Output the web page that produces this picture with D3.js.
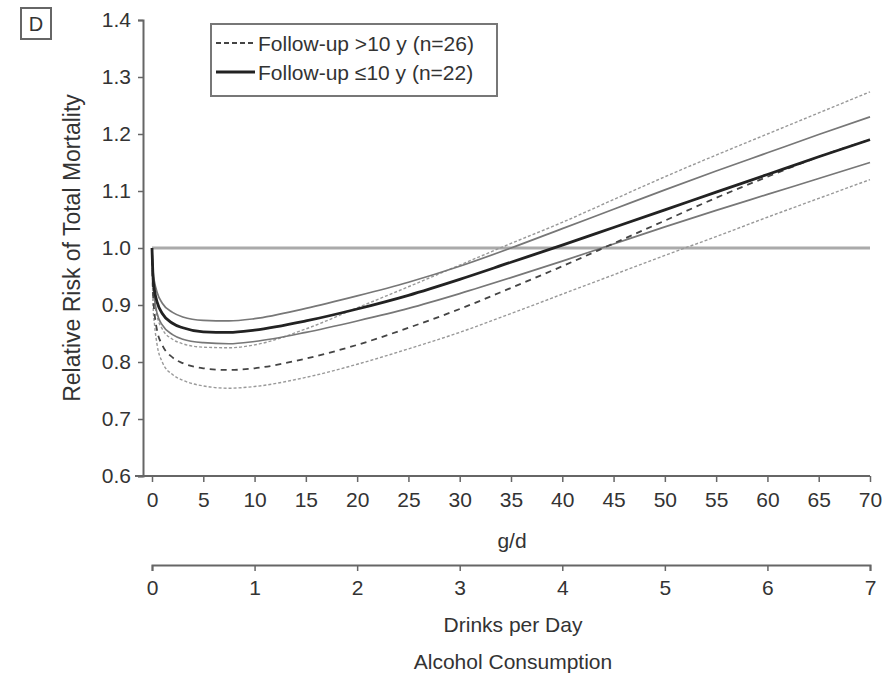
<!DOCTYPE html>
<html>
<head>
<meta charset="utf-8">
<script src="https://cdn.jsdelivr.net/npm/d3@7"></script>
<style>
  body { margin: 0; background: #fff; }
  text { font-family: "Liberation Sans", Arial, sans-serif; fill: #333; }
</style>
</head>
<body>
<div id="chart"></div>
<script>
// Alcohol intake (g/d) where the curves were read
const gramsPerDay = [0, 0.1, 0.25, 0.5, 1, 2, 3, 5, 7.5, 10, 15, 20, 25, 30, 35, 40, 45, 50, 55, 60, 65, 70];

// Follow-up <= 10 y (solid) and its 95% CI
const shortFollowUp = [1.0, 0.95, 0.925, 0.905, 0.885, 0.868, 0.86, 0.853, 0.852, 0.856, 0.872, 0.893, 0.917, 0.945, 0.975, 1.005, 1.036, 1.067, 1.098, 1.129, 1.16, 1.19];
const shortUpper = [1.0, 0.96, 0.94, 0.922, 0.903, 0.887, 0.879, 0.873, 0.872, 0.876, 0.894, 0.916, 0.94, 0.968, 1.0, 1.034, 1.068, 1.102, 1.135, 1.167, 1.199, 1.23];
const shortLower = [1.0, 0.94, 0.91, 0.885, 0.865, 0.848, 0.84, 0.834, 0.832, 0.836, 0.852, 0.872, 0.894, 0.92, 0.948, 0.977, 1.007, 1.037, 1.066, 1.094, 1.122, 1.15];

// Follow-up > 10 y (dashed) and its 95% CI
const longFollowUp = [1.0, 0.92, 0.885, 0.855, 0.83, 0.808, 0.798, 0.789, 0.786, 0.789, 0.806, 0.83, 0.86, 0.893, 0.93, 0.968, 1.008, 1.048, 1.088, 1.125, 1.16, 1.19];
const longUpper = [1.0, 0.94, 0.905, 0.88, 0.858, 0.84, 0.832, 0.826, 0.825, 0.83, 0.858, 0.895, 0.932, 0.97, 1.008, 1.045, 1.085, 1.125, 1.163, 1.2, 1.237, 1.274];
const longLower = [1.0, 0.9, 0.865, 0.83, 0.8, 0.778, 0.768, 0.758, 0.754, 0.757, 0.773, 0.796, 0.823, 0.852, 0.885, 0.919, 0.953, 0.987, 1.02, 1.054, 1.087, 1.12];

// Tick labels
const yTicks = [0.6, 0.7, 0.8, 0.9, 1.0, 1.1, 1.2, 1.3, 1.4];
const gTicks = [0, 5, 10, 15, 20, 25, 30, 35, 40, 45, 50, 55, 60, 65, 70];
const drinkTicks = [0, 1, 2, 3, 4, 5, 6, 7];
const legendLabels = ["Follow-up >10 y (n=26)", "Follow-up \u226410 y (n=22)"];

const width = 895, height = 673;
const fontSize = "21px";

const svg = d3.select("#chart").append("svg")
    .attr("width", width)
    .attr("height", height);

svg.append("rect").attr("width", width).attr("height", height).attr("fill", "#fff");

// Scales
const x = d3.scaleLinear().domain([0, 70]).range([152, 870]);
const xDrinks = d3.scaleLinear().domain([0, 7]).range([152, 870]);
const y = d3.scaleLinear().domain([0.6, 1.4]).range([476, 20]);

// Panel letter
svg.append("rect")
    .attr("x", 21).attr("y", 8).attr("width", 30).attr("height", 31)
    .attr("fill", "none").attr("stroke", "#666").attr("stroke-width", 2);
svg.append("text")
    .attr("x", 36).attr("y", 31)
    .attr("text-anchor", "middle")
    .style("font-size", "20px")
    .text("D");

// Y axis
const yAxis = svg.append("g")
    .attr("transform", "translate(143,0)")
    .call(d3.axisLeft(y).tickValues(yTicks).tickFormat(d3.format(".1f")).tickSize(5).tickPadding(7));

// X axis (g/d)
const xAxis = svg.append("g")
    .attr("transform", "translate(0,476)")
    .call(d3.axisBottom(x).tickValues(gTicks).tickFormat(d3.format("d")).tickSize(6).tickPadding(10));
xAxis.select(".domain").attr("d", "M135,0H870");

// X axis (drinks per day)
const dAxis = svg.append("g")
    .attr("transform", "translate(0,565)")
    .call(d3.axisBottom(xDrinks).tickValues(drinkTicks).tickFormat(d3.format("d")).tickSize(6).tickPadding(9));

[yAxis, xAxis, dAxis].forEach(function(a) {
    a.select(".domain").attr("stroke", "#666").attr("stroke-width", 2);
    a.selectAll(".tick line").attr("stroke", "#666").attr("stroke-width", 1.5);
    a.selectAll(".tick text")
        .style("font-size", fontSize)
        .style("font-family", "'Liberation Sans', Arial, sans-serif")
        .attr("fill", "#333");
});

// Axis titles
svg.append("text")
    .attr("transform", "translate(80,248) rotate(-90)")
    .attr("text-anchor", "middle")
    .style("font-size", "23px")
    .text("Relative Risk of Total Mortality");

svg.append("text")
    .attr("x", 512).attr("y", 548)
    .attr("text-anchor", "middle")
    .style("font-size", fontSize)
    .text("g/d");

svg.append("text")
    .attr("x", 513).attr("y", 632)
    .attr("text-anchor", "middle")
    .style("font-size", fontSize)
    .text("Drinks per Day");

svg.append("text")
    .attr("x", 513).attr("y", 669)
    .attr("text-anchor", "middle")
    .style("font-size", fontSize)
    .text("Alcohol Consumption");

// Reference line at RR = 1
svg.append("line")
    .attr("x1", x(0)).attr("x2", x(70))
    .attr("y1", y(1)).attr("y2", y(1))
    .attr("stroke", "#aaa")
    .attr("stroke-width", 3);

// Curves
const line = d3.line()
    .x(d => x(d[0]))
    .y(d => y(d[1]))
    .curve(d3.curveMonotoneX);

const series = [
    { values: longUpper, stroke: "#999", width: 1.4, dash: "3,2" },
    { values: longLower, stroke: "#999", width: 1.4, dash: "3,2" },
    { values: shortUpper, stroke: "#777", width: 1.7, dash: null },
    { values: shortLower, stroke: "#777", width: 1.7, dash: null },
    { values: longFollowUp, stroke: "#444", width: 1.8, dash: "6,5" },
    { values: shortFollowUp, stroke: "#222", width: 2.8, dash: null }
];

series.forEach(function(s) {
    svg.append("path")
        .datum(gramsPerDay.map((g, i) => [g, s.values[i]]))
        .attr("fill", "none")
        .attr("stroke", s.stroke)
        .attr("stroke-width", s.width)
        .attr("stroke-dasharray", s.dash)
        .attr("d", line);
});

// Legend
const legend = svg.append("g");
legend.append("rect")
    .attr("x", 211).attr("y", 24).attr("width", 286).attr("height", 72)
    .attr("fill", "#fff").attr("stroke", "#777").attr("stroke-width", 2);

const legendRows = legend.selectAll(".row")
    .data(legendLabels)
    .enter().append("g")
    .attr("class", "row")
    .attr("transform", (d, i) => "translate(0," + (43 + i * 29) + ")");

legendRows.append("line")
    .attr("x1", 216).attr("x2", 255)
    .attr("stroke", (d, i) => i === 0 ? "#444" : "#222")
    .attr("stroke-width", (d, i) => i === 0 ? 1.8 : 2.8)
    .attr("stroke-dasharray", (d, i) => i === 0 ? "5,3" : null);

legendRows.append("text")
    .attr("x", 258)
    .attr("dy", "0.36em")
    .style("font-size", fontSize)
    .text(d => d);
</script>
</body>
</html>
